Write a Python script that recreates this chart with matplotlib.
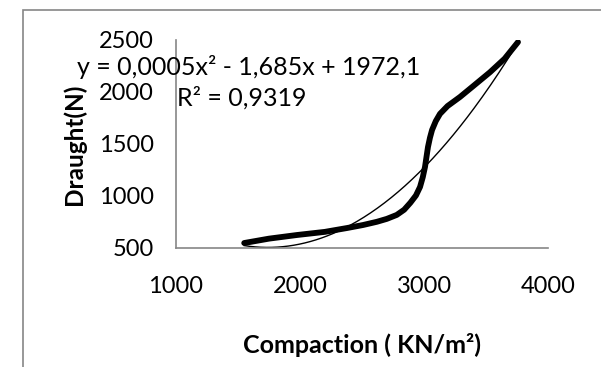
import numpy as np
import matplotlib.pyplot as plt
from matplotlib.patches import Rectangle

# values
compaction = [1550, 1750, 1976, 2200, 2379, 2508, 2620, 2700, 2780, 2840, 2890, 2935, 2968, 2990,
              3008, 3020, 3032, 3048, 3065, 3095, 3129, 3190, 3290, 3395, 3532, 3650, 3758]
draught = [548, 590, 625, 655, 692, 721, 752, 780, 818, 868, 935, 1005, 1087, 1180,
           1279, 1375, 1471, 1560, 1635, 1720, 1790, 1865, 1952, 2055, 2190, 2320, 2480]
# trend line coefficients (label shows 0,0005 / -1,685 / 1972,1)
trend_coef = [0.000484, -1.685, 1972.1]
x_ticks = [1000, 2000, 3000, 4000]
y_ticks = [500, 1000, 1500, 2000, 2500]
eq_text = 'y = 0,0005x\u00b2 - 1,685x + 1972,1'
r2_text = 'R\u00b2 = 0,9319'

W, H = 601, 367
plt.rcParams['font.family'] = ['Lato', 'DejaVu Sans']
fig = plt.figure(figsize=(W / 100, H / 100), dpi=100)

# outer chart frame (cropped at right and bottom)
fig.patches.append(Rectangle((23 / W, -0.1), 1.2, 1 - 10 / H + 0.1, transform=fig.transFigure,
                             fill=False, edgecolor='#868686', lw=1.2))

ax = fig.add_axes([176 / W, 1 - 248 / H, (548 - 176) / W, (248 - 40) / H])

xs = np.linspace(min(compaction), max(compaction), 200)
ax.plot(xs, np.polyval(trend_coef, xs), color='black', lw=1.0)
ax.plot(compaction, draught, color='black', lw=4.2, solid_capstyle='round', solid_joinstyle='round')

ax.set_xlim(1000, 4000)
ax.set_ylim(500, 2500)
ax.set_xticks(x_ticks)
ax.set_yticks(y_ticks)
ax.tick_params(length=0, labelsize=17, pad=16)
ax.tick_params(axis='x', pad=20)
for s in ['top', 'right']:
    ax.spines[s].set_visible(False)
for s in ['left', 'bottom']:
    ax.spines[s].set_color('#868686')
    ax.spines[s].set_linewidth(1.2)

ax.set_xlabel('Compaction ( KN/m\u00b2)', fontsize=18, fontweight='bold', labelpad=26)
ax.set_ylabel('Draught(N)', fontsize=17.5, fontweight='bold', labelpad=9)

fig.text(77 / W, 1 - 67 / H, eq_text, fontsize=18, va='center', ha='left')
fig.text(177 / W, 1 - 98 / H, r2_text, fontsize=18, va='center', ha='left')

fig.savefig('out.png', dpi=100)
